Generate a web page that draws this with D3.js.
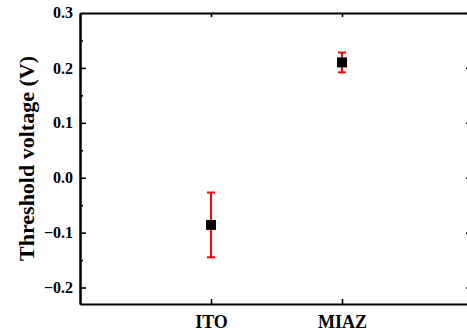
<!DOCTYPE html>
<html>
<head>
<meta charset="utf-8">
<script src="https://cdn.jsdelivr.net/npm/d3@7"></script>
<style>
  body { margin: 0; background: #fff; }
  svg { display: block; }
</style>
</head>
<body>
<div id="chart"></div>
<script>
// data
const categories = ["ITO", "MIAZ"];
const means = [-0.086, 0.210];
const errors = [0.059, 0.018];
const yTicks = [-0.2, -0.1, 0.0, 0.1, 0.2, 0.3];
const yMinor = [-0.15, -0.05, 0.05, 0.15, 0.25];

var width = 467, height = 335;
// frame edges (the right edge sits just outside the window)
var padLeft = 80, padRight = 473, padTop = 13, padBottom = 304;
var font = "'Liberation Serif', 'Times New Roman', serif";

var svg = d3.select("#chart").append("svg").attr("width", width).attr("height", height);

// scales
var xScale = d3.scaleLinear().domain([0, categories.length + 1]).range([padLeft, padRight]);
var yScale = d3.scaleLinear().domain([-0.23, 0.3]).range([padBottom, padTop]);

// left axis, inward ticks
var yAxis = svg.append("g")
  .attr("transform", "translate(" + padLeft + ",0)")
  .call(d3.axisLeft(yScale).tickValues(yTicks.filter(d => d < 0.3)).tickSizeInner(-6).tickSizeOuter(0).tickPadding(7).tickFormat(d3.format(".1f")));
yAxis.selectAll("text")
  .attr("font-family", font).attr("font-weight", "bold").attr("font-size", "16px").attr("fill", "#000");
// 0.3 label sits on the top frame line
yAxis.append("text")
  .attr("x", -7).attr("y", yScale(0.3)).attr("dy", "0.32em")
  .attr("text-anchor", "end")
  .attr("font-family", font).attr("font-weight", "bold").attr("font-size", "16px").attr("fill", "#000")
  .text("0.3");

svg.append("g")
  .attr("transform", "translate(" + padLeft + ",0)")
  .call(d3.axisLeft(yScale).tickValues(yMinor).tickSizeInner(-3).tickSizeOuter(0).tickFormat(""));

// right axis (mostly off the edge)
svg.append("g")
  .attr("transform", "translate(" + padRight + ",0)")
  .call(d3.axisRight(yScale).tickValues(yTicks).tickSizeInner(-7).tickSizeOuter(0).tickFormat(""));

// bottom axis
var xAxis = svg.append("g")
  .attr("transform", "translate(0," + padBottom + ")")
  .call(d3.axisBottom(xScale).tickValues([1, 2]).tickSizeInner(-5).tickSizeOuter(0).tickFormat((d) => categories[d - 1]).tickPadding(11));
xAxis.selectAll("text")
  .attr("font-family", font).attr("font-weight", "bold").attr("font-size", "18px").attr("fill", "#000");

// top axis
svg.append("g")
  .attr("transform", "translate(0," + padTop + ")")
  .call(d3.axisTop(xScale).tickValues([1, 2]).tickSizeInner(-4).tickSizeOuter(0).tickFormat(""));

svg.selectAll(".domain").attr("stroke", "#000").attr("stroke-width", 2);
svg.selectAll(".tick line").attr("stroke", "#000").attr("stroke-width", 1.6);

// error bars
var pts = svg.selectAll(".pt")
  .data(categories)
  .enter()
  .append("g")
  .attr("class", "pt");

pts.append("line")
  .attr("x1", (d, i) => xScale(i + 1)).attr("x2", (d, i) => xScale(i + 1))
  .attr("y1", (d, i) => yScale(means[i] + errors[i])).attr("y2", (d, i) => yScale(means[i] - errors[i]))
  .attr("stroke", "#ff0000").attr("stroke-width", 2);

[1, -1].forEach(function (s) {
  pts.append("line")
    .attr("x1", (d, i) => xScale(i + 1) - 4).attr("x2", (d, i) => xScale(i + 1) + 4)
    .attr("y1", (d, i) => yScale(means[i] + s * errors[i])).attr("y2", (d, i) => yScale(means[i] + s * errors[i]))
    .attr("stroke", "#ff0000").attr("stroke-width", 2);
});

// square markers
pts.append("rect")
  .attr("x", (d, i) => xScale(i + 1) - 5).attr("y", (d, i) => yScale(means[i]) - 5)
  .attr("width", 10).attr("height", 10)
  .attr("fill", "#000");

// y label
svg.append("text")
  .attr("transform", "translate(34," + ((padTop + padBottom) / 2) + ") rotate(-90)")
  .attr("text-anchor", "middle")
  .attr("font-family", font).attr("font-weight", "bold").attr("font-size", "22px")
  .text("Threshold voltage (V)");
</script>
</body>
</html>
